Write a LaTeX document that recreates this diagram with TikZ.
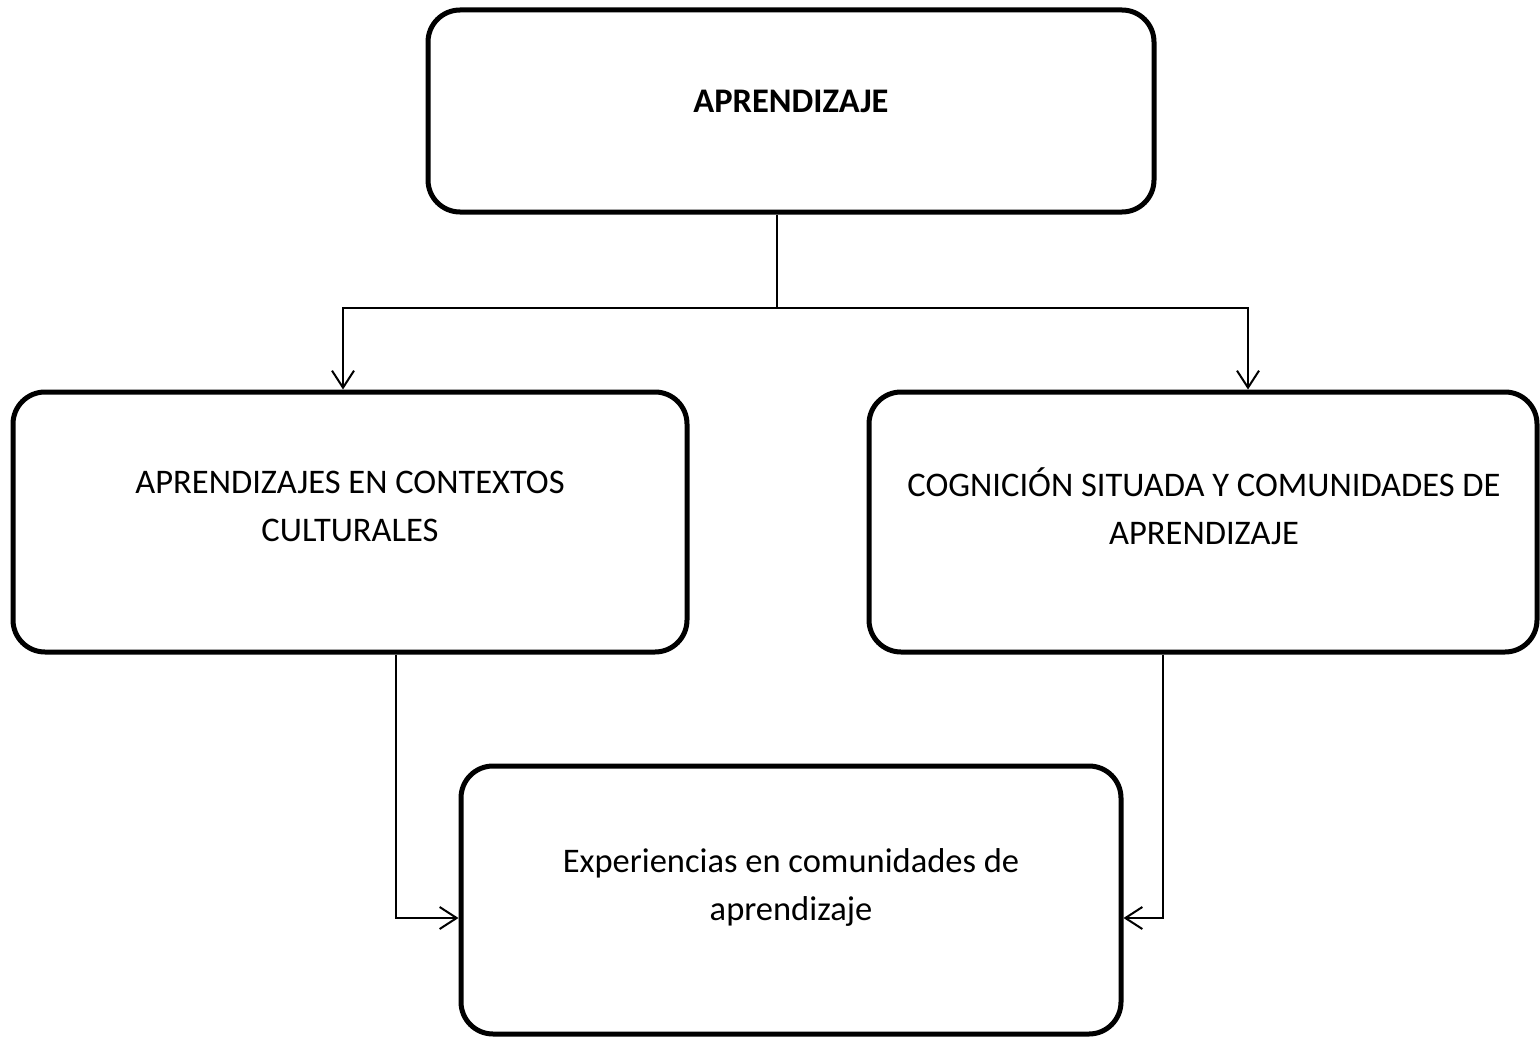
\documentclass[tikz,border=0pt]{standalone}
\usepackage{fontspec}
\setmainfont{Carlito}
\usetikzlibrary{positioning,arrows.meta}

\begin{document}
\begin{tikzpicture}[x=1pt,y=-1pt,
roundbox/.style={rectangle, rounded corners=32pt, draw=black, line width=5pt},
boxtext/.style={align=center, font=\fontsize{34.5}{48}\selectfont},
link/.style={line width=2pt},
>={Straight Barb[length=17pt,width=22pt]},
]
\useasboundingbox (0,0) rectangle (1540,1038);

%Nodes
\node[roundbox, minimum width=726, minimum height=202] (top)    at (791,111)   {};
\node[roundbox, minimum width=674, minimum height=260] (left)   at (350,522)   {};
\node[roundbox, minimum width=668, minimum height=260] (right)  at (1203,522)  {};
\node[roundbox, minimum width=660, minimum height=268] (bottom) at (791,900)   {};

\node[boxtext, font=\fontsize{34.5}{48}\selectfont\bfseries] (topT) at (791,101) {APRENDIZAJE};
\node[boxtext] (leftT)   at (350,506)  {APRENDIZAJES EN CONTEXTOS\\CULTURALES};
\node[boxtext] (rightT)  at (1204,506) {COGNICIÓN SITUADA Y COMUNIDADES DE\\APRENDIZAJE};
\node[boxtext] (bottomT) at (791,887)  {Experiencias en comunidades de\\aprendizaje};

%Lines
\coordinate (split) at (777,308);
\coordinate (toL)   at (343,308);
\coordinate (toR)   at (1248,308);
\coordinate (dropL) at (396,918);
\coordinate (dropR) at (1163,918);

\draw[link] (top.south -| split) -- (split);
\draw[link,->] (split) -| (left.north -| toL);
\draw[link,->] (split) -| (right.north -| toR);

\draw[link,->] (left.south -| dropL)  |- (bottom.west |- dropL);
\draw[link,->] (right.south -| dropR) |- (bottom.east |- dropR);

\end{tikzpicture}
\end{document}
